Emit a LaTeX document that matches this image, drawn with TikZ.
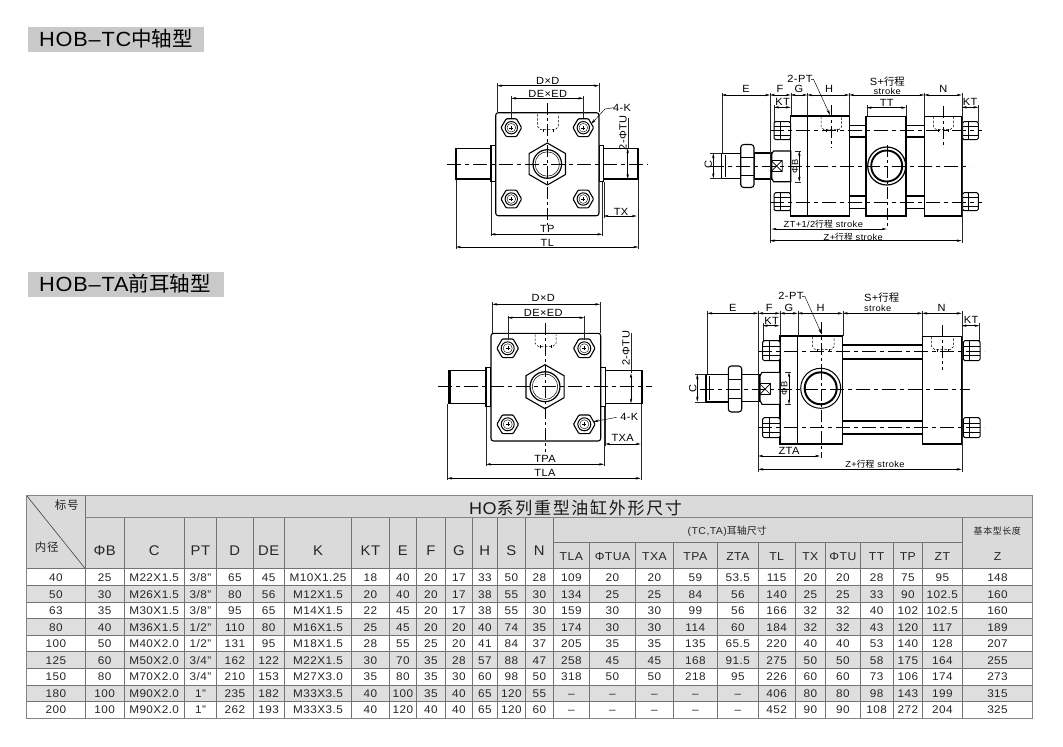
\documentclass[tikz,border=0pt]{standalone}
\usepackage{fontspec}
\usetikzlibrary{arrows.meta}
\setmainfont[FakeStretch=1.06,LetterSpace=4]{Liberation Sans}
\newfontfamily\cjk{Noto Sans CJK SC}
\newfontfamily\cjkwide[LetterSpace=10]{Noto Sans CJK SC}
\newfontfamily\cjksmall[LetterSpace=6]{Noto Sans CJK SC}
\newcommand\fsz[1]{\fontsize{#1}{#1}\selectfont}
\tikzset{
 obj/.style={line width=1.1pt,draw=black,fill=white},
 thinl/.style={line width=.35pt,draw=black!85},
 cenl/.style={line width=.5pt,draw=black,dash pattern=on 14pt off 4pt on 4pt off 4pt},
 vcen/.style={line width=.4pt,draw=black,dash pattern=on 12pt off 3pt on 3pt off 3pt},
 dimar/.style={line width=.45pt,draw=black,{Stealth[length=5pt,width=2.4pt]}-{Stealth[length=5pt,width=2.4pt]}},
 leadar/.style={line width=.45pt,draw=black,-{Stealth[length=5.5pt,width=2.6pt]}},
 lab/.style={inner sep=0pt,font=\fsz{10.4}},
 sml/.style={inner sep=0pt,font=\fsz{8.8}},
 cell/.style={inner sep=0pt,anchor=base,font=\fsz{11.1},text=black!85},
 hcell/.style={inner sep=0pt,anchor=base,font=\fsz{14},text=black!85},
 gridl/.style={line width=.7pt,draw=black!55},
 gridt/.style={line width=1pt,draw=black!48},
 portl/.style={line width=.5pt,draw=black,dash pattern=on 2.5pt off 1.5pt},
}
\definecolor{headgray}{HTML}{DADADA}
\definecolor{rowgray}{HTML}{DEDEDE}
\definecolor{titlegray}{HTML}{C9C9C9}
\def\colx{{26.7,85.3,124,184.3,216.7,253,284.3,351.7,389,416.7,445.3,472.3,497.3,525.3,553.3,589.3,635.7,673.3,717.3,758.3,795,825.7,860,893.3,922.3,962.3,1032.7}}
% hex bolt of the end views: x, y, radius
\newcommand\frontbolt[3]{
 \draw[line width=1.1pt,fill=white,rounded corners=1pt,shift={(#1,#2)}] (0:#3)--(60:#3)--(120:#3)--(180:#3)--(240:#3)--(300:#3)--cycle;
 \draw[line width=1pt,shift={(#1,#2)}] (0,0) circle[radius=#3*.6];
 \draw[line width=.4pt,shift={(#1,#2)}] (0,0) circle[radius=#3*.42];
 \draw[line width=.25pt,shift={(#1,#2)}] (-#3*.2,0)--(#3*.2,0) (0,-#3*.2)--(0,#3*.2);
}
% central hex nut and piston rod: x, y, radius
\newcommand\fronthex[3]{
 \draw[line width=1.1pt,fill=white,shift={(#1,#2)}] (30:#3)--(90:#3)--(150:#3)--(210:#3)--(270:#3)--(330:#3)--cycle;
 \draw[line width=1.2pt,shift={(#1,#2)}] (0,0) circle[radius=#3*.68];
 \draw[line width=.5pt,shift={(#1,#2)}] (0,0) circle[radius=#3*.58];
}
% dashed port: x1, x2, y1, y2
\newcommand\portd[4]{
 \draw[portl] (#1,#3)--(#1,#4-5)--(#1+3,#4-2)--(#2-3,#4-2)--(#2,#4-5)--(#2,#3);
 \draw[line width=.4pt] (#1+5,#4)--(#1+5,#4-3) (#2-5,#4)--(#2-5,#4-3);
}
% tie-rod nut, side view: x1, x2, centre y, half height
\newcommand\sidenut[4]{
 \draw[line width=1pt,fill=white,rounded corners=1.5pt] (#1,#3-#4)rectangle(#2,#3+#4);
 \draw[line width=.5pt] (#1,#3-#4*.45)--(#2,#3-#4*.45) (#1,#3+#4*.45)--(#2,#3+#4*.45);
 \draw[line width=.5pt] ({#1+(#2-#1)*.35},#3-#4)--({#1+(#2-#1)*.35},#3+#4);
}
% rod nut, side view
\newcommand\rodnut[4]{
 \draw[line width=1.1pt,fill=white,rounded corners=3pt] (#1,#3-#4)rectangle(#2,#3+#4);
 \draw[line width=.6pt] (#1,#3-#4*.42)--(#2,#3-#4*.42) (#1,#3+#4*.42)--(#2,#3+#4*.42);
}
% X square of the wrench flats
\newcommand\xbox[3]{
 \draw[line width=.7pt] (#1-#3,#2-#3)rectangle(#1+#3,#2+#3) (#1-#3,#2-#3)--(#1+#3,#2+#3) (#1-#3,#2+#3)--(#1+#3,#2-#3);
}
% one table row: number, y1, y2, fill, values
\newcommand\tblrow[5]{
 \fill[#4] (26.7,#2) rectangle (1032.7,#3);
 \foreach \v [count=\c] in {#5} {
  \pgfmathsetmacro\xa{\colx[\c-1]}
  \pgfmathsetmacro\xb{\colx[\c]}
  \node[cell,name=r#1c\c] at ({(\xa+\xb)/2},{(#2+#3)/2+4}) {\v};
 }
}
\newcommand\hdcell[3]{
 \pgfmathsetmacro\xa{\colx[#1-1]}
 \pgfmathsetmacro\xb{\colx[#1]}
 \node[hcell,name=h#1] at ({(\xa+\xb)/2},#2) {#3};
}
\begin{document}
\begin{tikzpicture}[x=1pt,y=-1pt]
\useasboundingbox (0,0) rectangle (1063,747);
\fill[white] (0,0) rectangle (1063,747);
% ---------- titles
\fill[titlegray] (28,27) rectangle (204,52);
\fill[titlegray] (28,272) rectangle (224,297);
\node[inner sep=0pt,anchor=base west,font=\fsz{20.5}] (title1) at (39,46.5) {HOB–TC{\cjk 中轴型}};
\node[inner sep=0pt,anchor=base west,font=\fsz{20.5}] (title2) at (39,291.5) {HOB–TA{\cjk 前耳轴型}};
% ---------- TC end view
\draw[obj] (456,148.3) rectangle (491,179);
\draw[obj] (603.7,148.3) rectangle (638.3,179);
\draw[line width=2pt] (456,149)--(456,178.5) (638.3,149)--(638.3,178.5);
\draw[obj] (491,145.3) rectangle (495.7,181.7);
\draw[obj] (599,145.3) rectangle (603.7,181.7);
\draw[obj,rounded corners=2.5pt] (495.7,112.7) rectangle (599,215.7);
\frontbolt{511.3}{127.7}{10.3}\frontbolt{583.3}{127.7}{10.3}\frontbolt{511.3}{199}{10.3}\frontbolt{583.3}{199}{10.3}
\fronthex{547.3}{164}{21}
\portd{537.7}{558.3}{114}{131.7}
\draw[cenl] (447.3,164)--(648.3,164);
\draw[vcen] (547.3,103)--(547.3,225);
\draw[thinl] (497.3,83)--(497.3,112) (599,83)--(599,112) (511.3,96)--(511.3,118) (583.3,96)--(583.3,118)
 (456,180)--(456,249) (490.7,182)--(490.7,236) (602.3,182)--(602.3,236) (638.3,180)--(638.3,249) (603.7,182)--(603.7,218) (627.7,118)--(627.7,148);
\draw[dimar] (497.3,85.7)--(599,85.7);
\draw[dimar] (511.3,98.3)--(583.3,98.3);
\draw[dimar] (490.7,234.3)--(602.3,234.3);
\draw[dimar] (456,247)--(638.3,247);
\draw[dimar] (603.7,216)--(636.7,216);
\draw[dimar] (627.7,148.3)--(627.7,179);
\draw[leadar] (614,107.7)--(605,109)--(591,124);
\node[lab] (a1) at (547.8,80.5) {D×D};
\node[lab] (a2) at (547.8,93.5) {DE×ED};
\node[lab] (a3) at (622,107.7) {4-K};
\node[lab,rotate=90] (a4) at (623,133) {2-ΦTU};
\node[lab] (a5) at (621,211.5) {TX};
\node[lab] (a6) at (547.3,229.3) {TP};
\node[lab] (a7) at (547.3,243) {TL};
% ---------- TC side view
\draw[obj] (849.3,125.3) rectangle (866,137);
\draw[obj] (906,125.3) rectangle (924.3,137);
\draw[obj] (849.3,196) rectangle (866,208.3);
\draw[obj] (906,196) rectangle (924.3,208.3);
\draw[obj] (790.7,116) rectangle (849.3,216);
\draw[line width=1pt] (807.3,116)--(807.3,216);
\draw[obj] (866,116.7) rectangle (906,216);
\draw[obj] (924.3,116.7) rectangle (961.7,216);
\draw[line width=1.2pt] (886.7,166) circle[radius=19];
\draw[line width=1.9pt] (886.7,166) circle[radius=15.5];
\portd{821}{841.7}{116.7}{131.7}
\portd{933.3}{953.3}{116.7}{131.7}
\sidenut{774}{790.5}{130.7}{9}
\sidenut{774}{790.5}{201.7}{9}
\sidenut{962.5}{978.3}{130.7}{9}
\sidenut{962.5}{978.3}{201.7}{9}
\draw[line width=1.6pt] (962.3,192.5)--(962.3,211);
\draw[obj] (754,153) rectangle (771.7,179);
\draw[obj,line width=1.3pt] (721.7,153.3) rectangle (742,178.3);
\draw[line width=.5pt] (725,155)--(725,177);
\rodnut{740.7}{754}{166}{21.5}
\draw[obj] (773.5,151) -- (790.7,151) -- (790.7,181.7) -- (773.5,181.7) -- (771.7,178) -- (771.7,154) -- cycle;
\xbox{776.7}{166}{5.5}
\draw[cenl] (710,166)--(970,166);
\draw[cenl] (770,130.7)--(982,130.7);
\draw[cenl] (770,202.3)--(982,202.3);
\draw[vcen] (830.7,105)--(830.7,148);
\draw[vcen] (943.3,106)--(943.3,148);
\draw[vcen] (886.7,145)--(886.7,229);
\draw[thinl] (721.7,93)--(721.7,153) (770,93)--(770,243) (790.7,93)--(790.7,116) (807.3,93)--(807.3,116) (849.3,93)--(849.3,116) (924.3,93)--(924.3,116) (961.7,93)--(961.7,243)
 (774,105)--(774,122) (978.3,105)--(978.3,122) (866.7,105)--(866.7,116) (906,105)--(906,116) (710,153.3)--(721.7,153.3) (710,178.3)--(721.7,178.3) (795,151)--(801,151) (795,181.7)--(801,181.7);
\draw[dimar] (721.7,95)--(770,95);
\draw[dimar] (770,95)--(790.7,95);
\draw[dimar] (790.7,95)--(807.3,95);
\draw[dimar] (807.3,95)--(849.3,95);
\draw[dimar] (849.3,95)--(924.3,95);
\draw[dimar] (924.3,95)--(961.7,95);
\draw[dimar] (774,107.3)--(790.7,107.3);
\draw[dimar] (961.7,107.3)--(978.3,107.3);
\draw[dimar] (866.7,107.7)--(906,107.7);
\draw[dimar] (713.3,153.3)--(713.3,178.3);
\draw[dimar] (799.3,151)--(799.3,181.7);
\draw[dimar] (771.7,229)--(886.7,229);
\draw[dimar] (770,240.7)--(961.7,240.7);
\draw[leadar] (811,79.3)--(813.5,79.3)--(830,115);
\node[lab] (b1) at (746,88.5) {E};
\node[lab] (b2) at (780,88.5) {F};
\node[lab] (b3) at (799,88.5) {G};
\node[lab] (b4) at (829,88.5) {H};
\node[lab] (b5) at (943.3,88.5) {N};
\node[lab] (b6) at (887.3,82) {S+{\cjk 行程}};
\node[sml] (b7) at (887.3,91) {stroke};
\node[lab] (b8) at (782.7,101.7) {KT};
\node[lab] (b9) at (970,102.3) {KT};
\node[lab] (b10) at (886.7,103.3) {TT};
\node[lab] (b11) at (800,79.3) {2-PT};
\node[lab,rotate=90] (b12) at (708.3,165) {C};
\node[sml,rotate=90] (b13) at (795,166.7) {ΦB};
\node[sml] (b14) at (823.3,224.3) {ZT+1/2{\cjk 行程} stroke};
\node[sml] (b15) at (853.3,236.7) {Z+{\cjk 行程} stroke};
% ---------- TA end view
\draw[obj] (449,370.7) rectangle (486,403.3);
\draw[obj] (605.3,370.7) rectangle (642.3,403.3);
\draw[line width=2pt] (449.5,371)--(449.5,403) (642,371)--(642,403);
\draw[obj] (486,367.3) rectangle (491,406.7);
\draw[obj] (600.7,367.3) rectangle (605.3,406.7);
\draw[obj,rounded corners=2.5pt] (491,333.3) rectangle (600.7,441);
\frontbolt{507.7}{348.3}{10.8}\frontbolt{584.3}{348.3}{10.8}\frontbolt{507.7}{424.3}{10.8}\frontbolt{584.3}{424.3}{10.8}
\fronthex{545}{386.7}{22}
\portd{535}{556}{334.3}{348.3}
\draw[cenl] (438.3,386.7)--(651.7,386.7);
\draw[vcen] (545,323.3)--(545,451.7);
\draw[thinl] (492.3,302)--(492.3,333) (600,302)--(600,333) (507.7,316)--(507.7,340) (584.3,316)--(584.3,340)
 (447.3,404)--(447.3,480) (486,407)--(486,466) (604,407)--(604,466) (605.3,407)--(605.3,446) (640.7,404)--(640.7,480) (631,333)--(631,373);
\draw[dimar] (492.3,304.3)--(600,304.3);
\draw[dimar] (507.7,317.7)--(584.3,317.7);
\draw[dimar] (486,464.3)--(604,464.3);
\draw[dimar] (447.3,478.3)--(640.7,478.3);
\draw[dimar] (605.3,444)--(640.7,444);
\draw[dimar] (631,373.3)--(631,403.3);
\draw[leadar] (616.7,417.3)--(593.3,421.7);
\node[lab] (c1) at (543.3,298.3) {D×D};
\node[lab] (c2) at (543.3,312.7) {DE×ED};
\node[lab] (c3) at (629.3,417.3) {4-K};
\node[lab,rotate=90] (c4) at (626,348.5) {2-ΦTU};
\node[lab] (c5) at (622.7,438.3) {TXA};
\node[lab] (c6) at (545,459) {TPA};
\node[lab] (c7) at (545,473.3) {TLA};
% ---------- TA side view
\draw[obj] (842.7,345) rectangle (922.3,359);
\draw[obj] (842.7,421) rectangle (922.3,434);
\draw[obj] (780,336) rectangle (842.7,444);
\draw[line width=1pt] (797.7,336)--(797.7,444);
\draw[obj] (922.3,336.7) rectangle (961.7,444);
\draw[line width=1pt] (820.7,388.3) circle[radius=20];
\draw[line width=2pt] (820.7,388.3) circle[radius=16];
\portd{812.3}{834}{336.7}{351.7}
\portd{931.7}{953.3}{336.7}{351.7}
\sidenut{762.7}{780}{350.7}{10}
\sidenut{762.7}{780}{427.7}{10}
\sidenut{963.3}{980}{350.7}{10}
\sidenut{963.3}{980}{427.7}{10}
\draw[obj] (741.7,374.3) rectangle (760,401.7);
\draw[obj,line width=1.6pt] (706,374.3) rectangle (729,401.7);
\draw[line width=.5pt] (709,376)--(709,400);
\rodnut{728.3}{741.7}{389}{23}
\draw[obj] (762,372.3) -- (780,372.3) -- (780,404.3) -- (762,404.3) -- (760,400.5) -- (760,376) -- cycle;
\xbox{765}{389}{5.5}
\draw[cenl] (700,389)--(970,389);
\draw[cenl] (758,351)--(984,351);
\draw[cenl] (758,427.7)--(984,427.7);
\draw[vcen] (820.7,322)--(820.7,368);
\draw[vcen] (941.7,325)--(941.7,370);
\draw[vcen] (820.7,368)--(820.7,458);
\draw[thinl] (707.3,311)--(707.3,374) (758.3,311)--(758.3,472) (780,311)--(780,336) (797.7,311)--(797.7,336) (842.7,311)--(842.7,336) (922.3,311)--(922.3,336) (961.7,311)--(961.7,472)
 (762.7,323)--(762.7,341) (979.3,323)--(979.3,341) (695,374.3)--(706,374.3) (695,401.7)--(706,401.7) (785,372.3)--(791,372.3) (785,404.3)--(791,404.3);
\draw[dimar] (707.3,313.3)--(758.3,313.3);
\draw[dimar] (758.3,313.3)--(780,313.3);
\draw[dimar] (780,313.3)--(797.7,313.3);
\draw[dimar] (797.7,313.3)--(842.7,313.3);
\draw[dimar] (842.7,313.3)--(922.3,313.3);
\draw[dimar] (922.3,313.3)--(961.7,313.3);
\draw[dimar] (762.7,325.7)--(779.3,325.7);
\draw[dimar] (961.7,325.7)--(979.3,325.7);
\draw[dimar] (697.3,374.3)--(697.3,401.7);
\draw[dimar] (789,372.3)--(789,404.3);
\draw[dimar] (758.3,456)--(820,456);
\draw[dimar] (758.3,469.3)--(961.7,469.3);
\draw[leadar] (802,296.7)--(805,296.7)--(821.7,334.3);
\node[lab] (d1) at (732.7,307.5) {E};
\node[lab] (d2) at (769.3,307.5) {F};
\node[lab] (d3) at (789,307.5) {G};
\node[lab] (d4) at (820.7,307.5) {H};
\node[lab] (d5) at (941.7,307.5) {N};
\node[lab] (d6) at (881.7,297.5) {S+{\cjk 行程}};
\node[sml] (d7) at (877.7,308.3) {stroke};
\node[lab] (d8) at (771.7,321) {KT};
\node[lab] (d9) at (971,320) {KT};
\node[lab] (d10) at (791,296) {2-PT};
\node[lab,rotate=90] (d11) at (692.7,388.3) {C};
\node[sml,rotate=90] (d12) at (784.3,388.3) {ΦB};
\node[lab] (d13) at (789,451) {ZTA};
\node[sml] (d14) at (875,464) {Z+{\cjk 行程} stroke};
% ---------- table
\fill[headgray] (26.7,495.3) rectangle (1032.7,568.7);
\tblrow{1}{568.7}{585.7}{white}{40,25,M22X1.5,3/8",65,45,M10X1.25,18,40,20,17,33,50,28,109,20,20,59,53.5,115,20,20,28,75,95,148}
\tblrow{2}{585.7}{602.3}{rowgray}{50,30,M26X1.5,3/8",80,56,M12X1.5,20,40,20,17,38,55,30,134,25,25,84,56,140,25,25,33,90,102.5,160}
\tblrow{3}{602.3}{618.7}{white}{63,35,M30X1.5,3/8",95,65,M14X1.5,22,45,20,17,38,55,30,159,30,30,99,56,166,32,32,40,102,102.5,160}
\tblrow{4}{618.7}{635.3}{rowgray}{80,40,M36X1.5,1/2",110,80,M16X1.5,25,45,20,20,40,74,35,174,30,30,114,60,184,32,32,43,120,117,189}
\tblrow{5}{635.3}{651.7}{white}{100,50,M40X2.0,1/2",131,95,M18X1.5,28,55,25,20,41,84,37,205,35,35,135,65.5,220,40,40,53,140,128,207}
\tblrow{6}{651.7}{668.3}{rowgray}{125,60,M50X2.0,3/4",162,122,M22X1.5,30,70,35,28,57,88,47,258,45,45,168,91.5,275,50,50,58,175,164,255}
\tblrow{7}{668.3}{685}{white}{150,80,M70X2.0,3/4",210,153,M27X3.0,35,80,35,30,60,98,50,318,50,50,218,95,226,60,60,73,106,174,273}
\tblrow{8}{685}{701.3}{rowgray}{180,100,M90X2.0,1",235,182,M33X3.5,40,100,35,40,65,120,55,–,–,–,–,–,406,80,80,98,143,199,315}
\tblrow{9}{701.3}{718}{white}{200,100,M90X2.0,1",262,193,M33X3.5,40,120,40,40,65,120,60,–,–,–,–,–,452,90,90,108,272,204,325}
\foreach \yy in {568.7,585.7,602.3,618.7,635.3,651.7,668.3,685,701.3}
 \draw[gridl] (26.7,\yy)--(1032.7,\yy);
\foreach \xx in {124,184.3,216.7,253,284.3,351.7,389,416.7,445.3,472.3,497.3,525.3,553.3,962.3}
 \draw[gridl] (\xx,517.7)--(\xx,718);
\foreach \xx in {589.3,635.7,673.3,717.3,758.3,795,825.7,860,893.3,922.3}
 \draw[gridl] (\xx,542.3)--(\xx,718);
\draw[gridl] (553.3,542.3)--(962.3,542.3);
\draw[gridt] (85.3,517.7)--(1032.7,517.7);
\draw[gridl] (85.3,495.3)--(85.3,718);
\draw[gridt] (26.7,495.3) rectangle (1032.7,718);
\draw[line width=.6pt,draw=black!75] (27,496)--(85,568.3);
\node[inner sep=0pt,font=\fsz{11.5},text=black!85] (t1) at (66.7,505) {{\cjksmall 标号}};
\node[inner sep=0pt,font=\fsz{11.5},text=black!85] (t2) at (46.7,546.7) {{\cjksmall 内径}};
\node[inner sep=0pt,font=\fsz{17},text=black!90] (t3) at (575.5,508) {HO{\cjkwide 系列重型油缸外形尺寸}};
\node[inner sep=0pt,font=\fsz{10},text=black!85] (t4) at (727.3,531) {(TC,TA){\cjk 耳轴尺寸}};
\node[inner sep=0pt,font=\fsz{9},text=black!85] (t5) at (997.3,531) {{\cjksmall 基本型长度}};
\foreach \c/\tt in {2/ΦB,3/C,4/PT,5/D,6/DE,7/K,8/KT,9/E,10/F,11/G,12/H,13/S,14/N}
 {\hdcell{\c}{555.7}{\tt}}
\tikzset{hcell/.append style={font=\fsz{11.5}}}
\foreach \c/\tt in {15/TLA,16/ΦTUA,17/TXA,18/TPA,19/ZTA,20/TL,21/TX,22/ΦTU,23/TT,24/TP,25/ZT,26/Z}
 {\hdcell{\c}{560}{\tt}}
\end{tikzpicture}
\end{document}
